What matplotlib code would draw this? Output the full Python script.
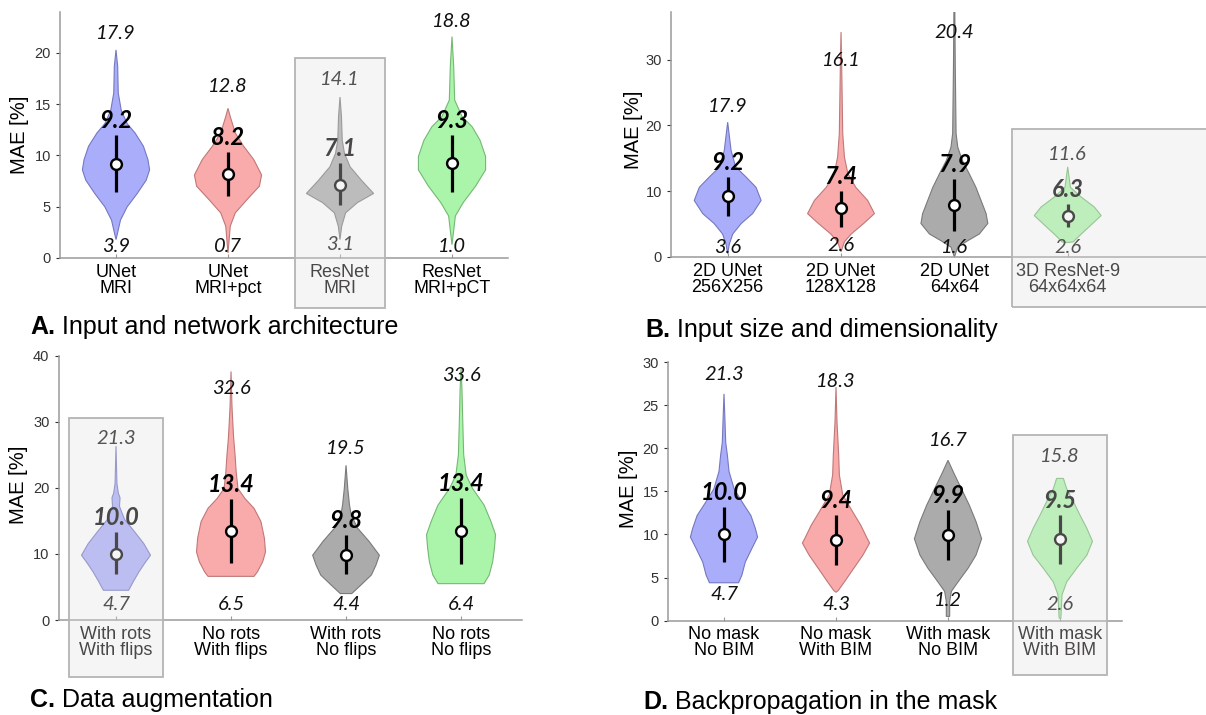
import matplotlib
matplotlib.use("Agg")
import matplotlib.pyplot as plt
from matplotlib.patches import Polygon, Rectangle

# ---- data ----
fill_colors = ["#aaaefa", "#f9aaaa", "#ababab", "#abf5aa"]
edge_colors = ["#7478c0", "#c07878", "#7a7a7a", "#74b874"]

a_labels = ["UNet\nMRI", "UNet\nMRI+pct", "ResNet\nMRI", "ResNet\nMRI+pCT"]
a_max = [17.9, 12.8, 14.1, 18.8]
a_med = [9.2, 8.2, 7.1, 9.3]
a_min = [3.9, 0.7, 3.1, 1.0]
a_iqr = [(6.4, 12.0), (6.0, 10.3), (5.2, 9.25), (6.4, 12.0)]
a_shapes = [
    [(1.8, 0), (2.4, .013), (3.7, .04), (5.0, .10), (6.3, .19), (7.6, .27), (8.6, .30), (9.6, .285),
     (10.9, .245), (12.2, .17), (13.1, .10), (14.4, .047), (16.1, .02), (18.7, .015), (20.3, 0)],
    [(0.5, 0), (1.5, .008), (3.1, .02), (4.4, .065), (5.7, .17), (7.0, .28), (8.1, .30), (9.6, .23),
     (10.9, .14), (12.2, .065), (13.8, .02), (14.6, 0)],
    [(1.8, 0), (3.1, .015), (4.4, .05), (5.4, .155), (6.3, .30), (7.6, .19), (8.9, .09), (10.2, .04),
     (11.5, .02), (13.8, .013), (15.7, 0)],
    [(1.3, 0), (2.4, .012), (4.1, .03), (5.4, .10), (7.0, .21), (8.6, .30), (9.9, .30), (11.5, .25),
     (12.8, .18), (13.8, .09), (15.4, .024), (18.7, .015), (21.6, 0)],
]

b_labels = ["2D UNet\n256X256", "2D UNet\n128X128", "2D UNet\n64x64", "3D ResNet-9\n64x64x64"]
b_max = [17.9, 16.1, 20.4, 11.6]
b_med = [9.2, 7.4, 7.9, 6.3]
b_min = [3.6, 2.6, 1.6, 2.6]
b_iqr = [(6.3, 12.1), (4.6, 10.0), (3.9, 11.9), (4.6, 8.1)]
b_shapes = [
    [(0.5, 0), (2.0, .015), (3.5, .045), (5.1, .12), (6.6, .22), (8.6, .295), (10.6, .25), (12.2, .16),
     (13.7, .07), (16.2, .03), (18.8, .012), (20.5, 0)],
    [(0.8, 0), (2.3, .03), (3.5, .09), (5.1, .20), (6.6, .295), (8.6, .235), (10.6, .13), (12.7, .06),
     (15.2, .03), (18.8, .015), (28.9, .006), (34.2, 0)],
    [(0.0, 0), (1.5, .03), (2.5, .12), (3.5, .22), (5.1, .295), (6.6, .28), (8.6, .235), (10.6, .19),
     (12.7, .13), (14.7, .07), (16.7, .03), (18.8, .015), (28.9, .008), (37.3, .004)],
    [(2.2, 0), (2.3, .05), (2.5, .06), (3.5, .12), (5.1, .22), (6.3, .295), (7.6, .235), (9.1, .12),
     (10.6, .024), (13.7, 0)],
]

c_labels = ["With rots\nWith flips", "No rots\nWith flips", "With rots\nNo flips", "No rots\nNo flips"]
c_max = [21.3, 32.6, 19.5, 33.6]
c_med = [10.0, 13.4, 9.8, 13.4]
c_min = [4.7, 6.5, 4.4, 6.4]
c_iqr = [(6.9, 13.3), (8.6, 18.3), (6.9, 12.9), (8.4, 18.4)]
c_shapes = [
    [(4.5, 0), (4.5, .11), (5.8, .15), (7.3, .20), (8.6, .25), (9.8, .30), (11.6, .24), (13.6, .15),
     (15.2, .075), (17.2, .03), (18.5, .035), (19.2, .02), (20.7, .008), (26.3, 0)],
    [(6.6, 0), (6.6, .20), (7.3, .23), (8.8, .275), (10.3, .30), (12.4, .29), (14.9, .26), (16.9, .20),
     (18.4, .12), (19.9, .06), (22.4, .045), (25.0, .035), (27.5, .023), (30.0, .015), (32.5, .008), (37.6, 0)],
    [(4.0, 0), (4.0, .05), (5.3, .13), (6.8, .22), (8.3, .26), (9.8, .29), (11.9, .20), (13.9, .10),
     (15.9, .045), (17.4, .03), (19.9, .015), (23.4, 0)],
    [(5.5, 0), (5.5, .20), (6.8, .245), (8.8, .275), (10.8, .29), (12.9, .30), (14.9, .26), (17.4, .20),
     (19.9, .10), (21.9, .045), (25.0, .023), (30.0, .015), (35.0, .008), (38.0, 0)],
]

d_labels = ["No mask\nNo BIM", "No mask\nWith BIM", "With mask\nNo BIM", "With mask\nWith BIM"]
d_max = [21.3, 18.3, 16.7, 15.8]
d_med = [10.0, 9.4, 9.9, 9.5]
d_min = [4.7, 4.3, 1.2, 2.6]
d_iqr = [(6.8, 13.2), (6.5, 12.2), (7.0, 12.8), (6.6, 12.2)]
d_shapes = [
    [(4.4, 0), (4.4, .13), (5.3, .16), (6.8, .19), (8.4, .25), (9.7, .30), (10.7, .28), (12.2, .24),
     (13.8, .16), (15.3, .09), (17.3, .045), (19.2, .03), (20.7, .015), (23.1, .009), (26.3, 0)],
    [(3.3, 0), (3.5, .02), (4.5, .075), (6.1, .16), (7.6, .24), (9.0, .30), (9.5, .28), (11.1, .22),
     (12.6, .15), (14.6, .06), (16.9, .03), (19.2, .024), (23.0, .009), (27.1, 0)],
    [(0.5, 0), (0.5, .015), (2.2, .015), (3.4, .03), (4.5, .09), (6.1, .18), (7.6, .25), (9.5, .30),
     (11.5, .25), (13.4, .19), (15.3, .12), (16.9, .06), (18.6, 0)],
    [(0.3, 0), (0.3, .008), (3.0, .018), (4.5, .06), (6.1, .15), (7.6, .24), (9.2, .29), (10.7, .24),
     (12.2, .18), (13.8, .12), (15.3, .06), (16.5, .03), (16.5, 0)],
]

# label placement (layout, in data units)
a_top_y, a_low_y = [21.9, 16.7, 17.4, 23.1], [1.1, 1.1, 1.3, 1.1]
b_top_y, b_low_y = [22.9, 29.9, 34.2, 15.6], [1.4, 1.8, 1.5, 1.5]
c_top_y, c_low_y = [27.5, 35.0, 26.0, 37.0], [2.4, 2.4, 2.4, 2.4]
d_top_y, d_low_y = [28.6, 27.7, 20.9, 19.0], [3.0, 1.9, 2.4, 1.9]

num_font = "Lato"
plt.rcParams["font.family"] = ["Liberation Sans", "DejaVu Sans"]

fig = plt.figure(figsize=(12.06, 7.15), dpi=100)
W, H = 1206, 715


def px_axes(left, bottom_from_top, right, top_from_top):
    return fig.add_axes([left / W, (H - bottom_from_top) / H,
                         (right - left) / W, (bottom_from_top - top_from_top) / H])


def draw_panel(ax, labels, maxs, meds, mins, iqrs, shapes, top_y, low_y,
               ylim, yticks, xlim, box, label_xy):
    for i in range(4):
        x = i + 1
        pts = shapes[i]
        left = [(x - w, y) for y, w in pts]
        right = [(x + w, y) for y, w in reversed(pts)]
        ax.add_patch(Polygon(left + right, closed=True, facecolor=fill_colors[i],
                             edgecolor=edge_colors[i], lw=0.8, zorder=2))
        ax.plot([x, x], iqrs[i], color="black", lw=2.3, solid_capstyle="butt", zorder=3)
        ax.plot(x, meds[i], "o", ms=7.8, mfc="white", mec="black", mew=1.7, zorder=4)
        ax.text(x, top_y[i], f"{maxs[i]:.1f}", ha="center", va="center", fontsize=14.5,
                style="italic", family=num_font, color="#111111", zorder=5)
        ax.text(x, low_y[i], f"{mins[i]:.1f}", ha="center", va="center", fontsize=14.5,
                style="italic", family=num_font, color="#111111", zorder=5)
        ax.annotate(f"{meds[i]:.1f}", (x, iqrs[i][1]), xytext=(0, 10.5), textcoords="offset points",
                    ha="center", va="center", fontsize=17, style="italic", weight="bold",
                    family=num_font, color="black", zorder=5)
    ax.set_xlim(*xlim)
    ax.set_ylim(*ylim)
    ax.set_yticks(yticks)
    ax.set_xticks(range(1, 5))
    ax.set_xticklabels(labels, fontsize=13, linespacing=0.92)
    ax.tick_params(axis="y", labelsize=10.5, colors="#333333", length=3, width=0.8, direction="out")
    ax.tick_params(axis="x", length=3, width=0.8, direction="in", pad=4, labelcolor="black",
                   color="#999999")
    for s in ["top", "right"]:
        ax.spines[s].set_visible(False)
    for s in ["left", "bottom"]:
        ax.spines[s].set_color("#9a9a9a")
        ax.spines[s].set_linewidth(1.1)
    ax.set_ylabel("MAE [%]", fontsize=14.5)
    ax.yaxis.set_label_coords(*label_xy)
    # highlight box around the best configuration
    x0, x1, y0, y1 = box
    ax.add_patch(Rectangle((x0, y0), x1 - x0, y1 - y0, facecolor="#e4e0e0", alpha=0.32,
                           edgecolor="none", clip_on=False, zorder=20))
    ax.add_patch(Rectangle((x0, y0), x1 - x0, y1 - y0, facecolor="none", edgecolor="#b5b3b3",
                           lw=1.3, clip_on=False, zorder=21))


axA = px_axes(60, 258, 508, 12)
draw_panel(axA, a_labels, a_max, a_med, a_min, a_iqr, a_shapes, a_top_y, a_low_y,
           (0, 24), [0, 5, 10, 15, 20], (0.5, 4.5), (2.6, 3.4, -4.9, 19.5), (-0.069, 0.5))

axB = px_axes(671, 257, 1206, 11.7)
draw_panel(axB, b_labels, b_max, b_med, b_min, b_iqr, b_shapes, b_top_y, b_low_y,
           (0, 37.3), [0, 10, 20, 30], (0.5, 5.22), (3.51, 5.4, -7.6, 19.45), (-0.052, 0.52))

axC = px_axes(58.5, 620, 522, 355.6)
draw_panel(axC, c_labels, c_max, c_med, c_min, c_iqr, c_shapes, c_top_y, c_low_y,
           (0, 40), [0, 10, 20, 30, 40], (0.5, 4.53), (0.59, 1.41, -8.6, 30.6), (-0.066, 0.51))

axD = px_axes(668, 620.7, 1121.6, 362)
draw_panel(axD, d_labels, d_max, d_med, d_min, d_iqr, d_shapes, d_top_y, d_low_y,
           (0, 30), [0, 5, 10, 15, 20, 25, 30], (0.5, 4.55), (3.58, 4.42, -6.3, 21.5), (-0.066, 0.51))

titles = [("A.", " Input and network architecture", 30, 327),
          ("B.", " Input size and dimensionality", 645, 330),
          ("C.", " Data augmentation", 30, 700),
          ("D.", " Backpropagation in the mask", 643, 702)]
for letter, rest, tx, ty in titles:
    t = fig.text(tx / W, (H - ty) / H, letter, fontsize=18, weight="bold", va="center", ha="left")
    plt.annotate(rest, xy=(1, 0), xycoords=t, va="bottom", ha="left", fontsize=18,
                 annotation_clip=False)

fig.savefig("out.png", dpi=100)
